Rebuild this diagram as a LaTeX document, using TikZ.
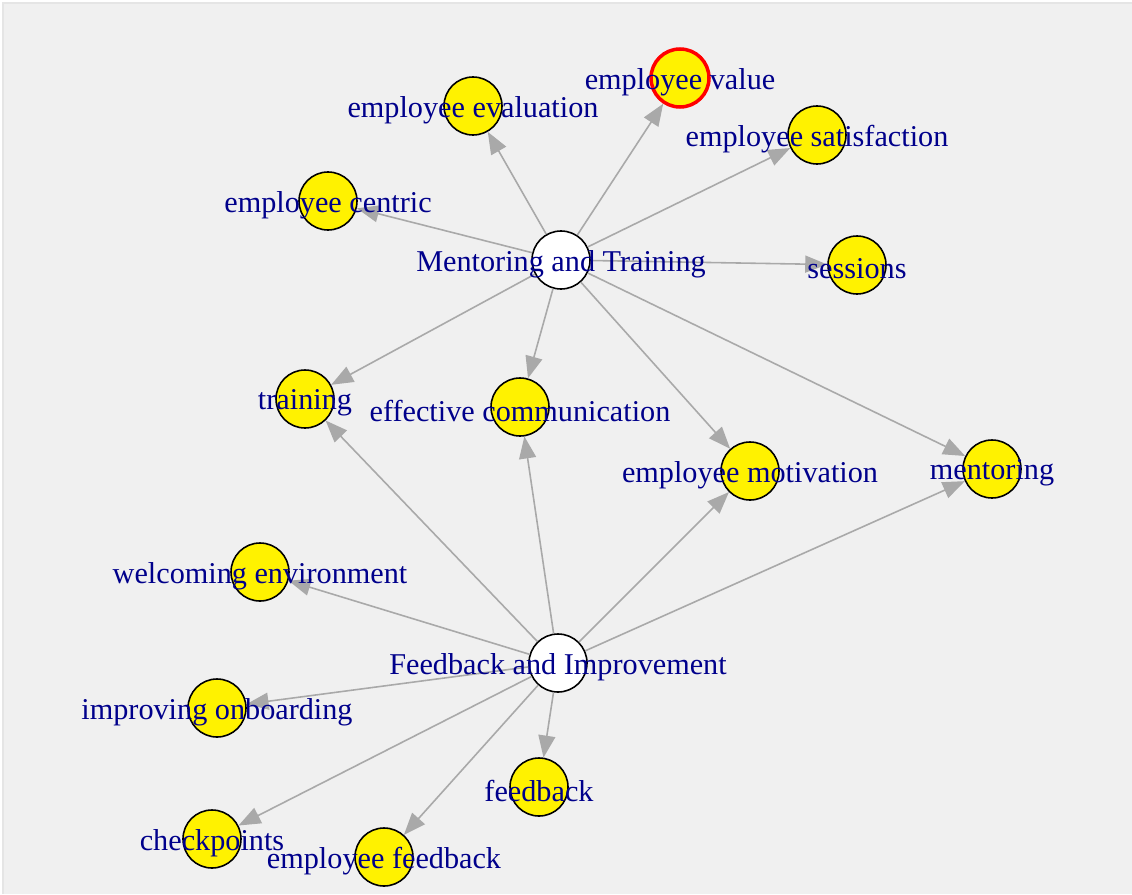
\documentclass[tikz,border=0pt]{standalone}
\usepackage{fontspec}
\setmainfont{Liberation Serif}
\usetikzlibrary{arrows.meta}
\definecolor{panel}{RGB}{240,240,240}
\definecolor{edgegrey}{RGB}{169,169,169}
\definecolor{labelblue}{RGB}{0,0,139}
\tikzset{
  vert/.style={circle,draw=black,line width=0.45pt,fill=yellow,minimum size=0.58cm,inner sep=0pt},
  hub/.style={vert,fill=white},
  lbl/.style={text=labelblue,inner sep=0pt,yshift=-0.04cm,font=\fontsize{8.6}{10}\selectfont},
  link/.style={draw=edgegrey,line width=0.45pt,-{Triangle[length=0.22cm,width=0.17cm]}}
}
\begin{document}
\begin{tikzpicture}
\useasboundingbox (0,0) rectangle (11.32,8.94);
\fill[white] (0,0) rectangle (11.32,8.94);
\fill[panel] (0.03,0) rectangle (11.32,8.91);
\draw[black!10,line width=0.3pt] (0.03,0) -- (0.03,8.91) -- (11.32,8.91);

\node[hub] (mt) at (5.61,6.34) {};
\node[hub] (fi) at (5.58,2.31) {};
\node[vert,draw=red,line width=1pt] (value) at (6.80,8.16) {};
\node[vert] (eval) at (4.73,7.88) {};
\node[vert] (satis) at (8.17,7.59) {};
\node[vert] (sess) at (8.57,6.29) {};
\node[vert] (centric) at (3.28,6.93) {};
\node[vert] (train) at (3.05,4.95) {};
\node[vert] (comm) at (5.20,4.87) {};
\node[vert] (motiv) at (7.50,4.23) {};
\node[vert] (mentor) at (9.92,4.25) {};
\node[vert] (welcome) at (2.60,3.22) {};
\node[vert] (onboard) at (2.17,1.86) {};
\node[vert] (feed) at (5.39,1.07) {};
\node[vert] (check) at (2.12,0.55) {};
\node[vert] (empfeed) at (3.84,0.37) {};

\draw[link] (mt) -- (centric);
\draw[link] (mt) -- (eval);
\draw[link] (mt) -- (value);
\draw[link] (mt) -- (satis);
\draw[link] (mt) -- (sess);
\draw[link] (mt) -- (train);
\draw[link] (mt) -- (comm);
\draw[link] (mt) -- (motiv);
\draw[link] (mt) -- (mentor);
\draw[link] (fi) -- (train);
\draw[link] (fi) -- (comm);
\draw[link] (fi) -- (motiv);
\draw[link] (fi) -- (mentor);
\draw[link] (fi) -- (welcome);
\draw[link] (fi) -- (onboard);
\draw[link] (fi) -- (feed);
\draw[link] (fi) -- (check);
\draw[link] (fi) -- (empfeed);

\node[lbl] (mt-t) at (mt) {Mentoring and Training};
\node[lbl] (fi-t) at (fi) {Feedback and Improvement};
\node[lbl] (value-t) at (value) {employee value};
\node[lbl] (eval-t) at (eval) {employee evaluation};
\node[lbl] (satis-t) at (satis) {employee satisfaction};
\node[lbl] (sess-t) at (sess) {sessions};
\node[lbl] (centric-t) at (centric) {employee centric};
\node[lbl] (train-t) at (train) {training};
\node[lbl] (comm-t) at (comm) {effective communication};
\node[lbl] (motiv-t) at (motiv) {employee motivation};
\node[lbl] (mentor-t) at (mentor) {mentoring};
\node[lbl] (welcome-t) at (welcome) {welcoming environment};
\node[lbl] (onboard-t) at (onboard) {improving onboarding};
\node[lbl] (feed-t) at (feed) {feedback};
\node[lbl] (check-t) at (check) {checkpoints};
\node[lbl] (empfeed-t) at (empfeed) {employee feedback};
\end{tikzpicture}
\end{document}
